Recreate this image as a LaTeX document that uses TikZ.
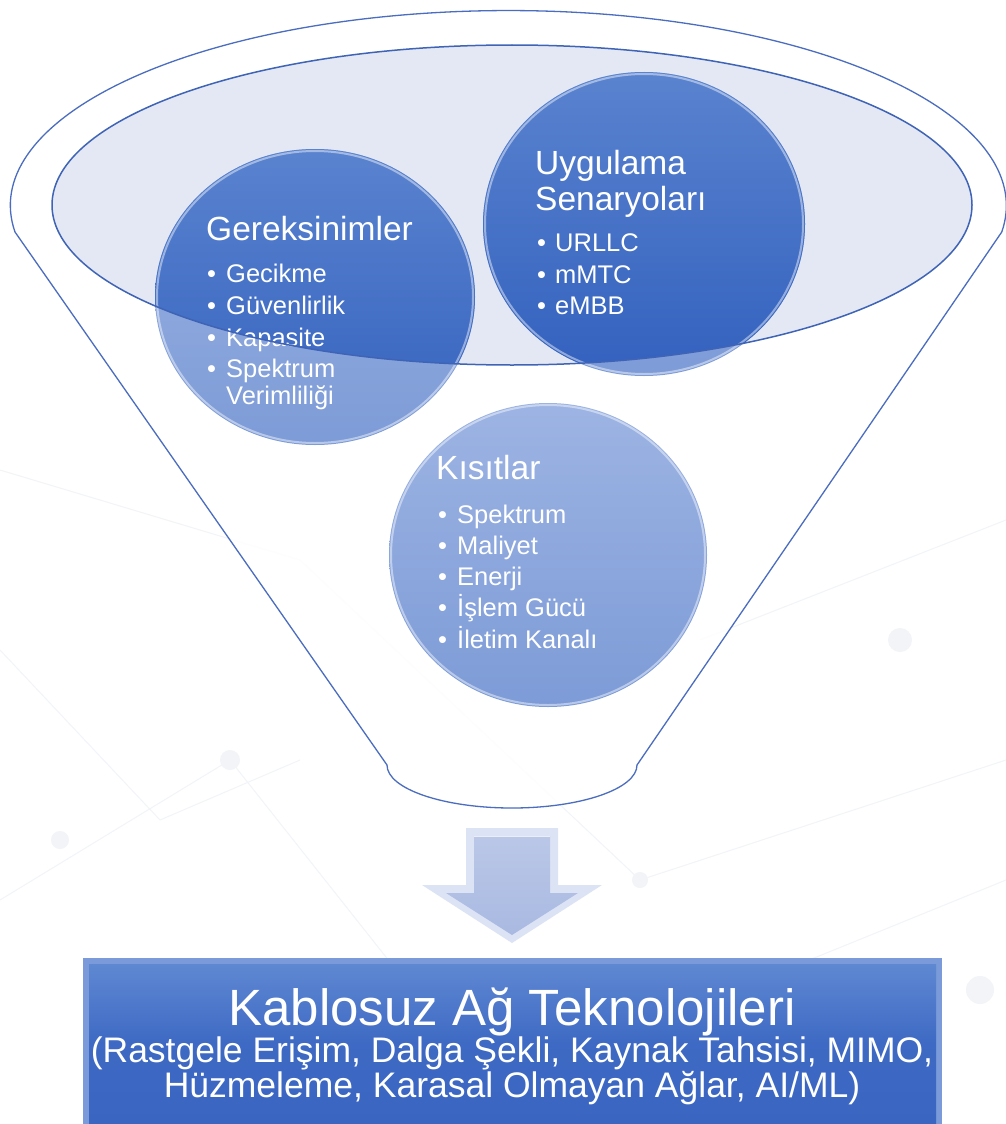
\documentclass[tikz,border=0pt]{standalone}
\usepackage{fontspec}
\setmainfont{Liberation Sans}
\usetikzlibrary{shapes.geometric}
\definecolor{funnelline}{HTML}{4A6DBF}
\definecolor{ellfill}{HTML}{E3E8F4}
\definecolor{ellline}{HTML}{3F64B6}
\definecolor{darktop}{HTML}{5A83CF}
\definecolor{darkbot}{HTML}{3361BE}
\definecolor{lighttop}{HTML}{9DB4E3}
\definecolor{lightbot}{HTML}{7D9BD7}
\definecolor{boxtop}{HTML}{5F88D2}
\definecolor{boxbot}{HTML}{3A66C2}
\definecolor{boxedge}{HTML}{7A9AD9}
\definecolor{arrowout}{HTML}{DCE3F5}
\definecolor{arrowin}{HTML}{A9B9E1}
\definecolor{bgline}{HTML}{F2F4F8}
\begin{document}
\begin{tikzpicture}[x=1pt,y=-1pt,
  circ/.style={ellipse, draw=none, inner sep=0pt, top color=lighttop, bottom color=lightbot},
  rim/.style={draw=white, draw opacity=0.45, line width=2pt},
  ttl/.style={text=white, inner sep=0pt, anchor=base west, font=\fontsize{33.5}{36}\selectfont},
  itm/.style={text=white, inner sep=0pt, anchor=base west, font=\fontsize{25.5}{27}\selectfont},
  boxtxt/.style={text=white, inner sep=0pt, anchor=base}]
\useasboundingbox (0,0) rectangle (1006,1124);
\fill[white] (0,0) rectangle (1006,1124);
% faint background network
\begin{scope}[bgline, line width=1pt]
\draw (0,470) -- (300,560) -- (640,880) -- (1006,760);
\draw (0,900) -- (230,760) -- (420,1000);
\draw (700,640) -- (1006,520);
\draw (760,980) -- (1006,880);
\draw (0,650) -- (160,820) -- (300,760);
\fill (230,760) circle[radius=10pt];
\fill (640,880) circle[radius=8pt];
\fill (900,640) circle[radius=12pt];
\fill (60,840) circle[radius=9pt];
\fill (980,990) circle[radius=14pt];
\end{scope}
% funnel body
\draw[funnelline, line width=1.3pt, fill=white, fill opacity=0.85]
  (15,232) arc[start angle=187.8, end angle=-7.8, x radius=498pt, y radius=195pt]
  -- (637,765) arc[start angle=0, end angle=-180, x radius=125pt, y radius=43pt]
  -- cycle;
% inner ellipse fill
\fill[ellfill] (512,205) ellipse[x radius=460pt, y radius=160pt];
% circles (light)
\node[circ, minimum width=320pt, minimum height=296pt] (req) at (315,297) {};
\node[circ, minimum width=322pt, minimum height=304pt] (app) at (644,224) {};
\node[circ, minimum width=318pt, minimum height=304pt] (con) at (548,555) {};
% dark parts inside ellipse
\begin{scope}
\clip (512,205) ellipse[x radius=460pt, y radius=160pt];
\shade[top color=darktop, bottom color=darkbot] (req.center) ellipse[x radius=160pt, y radius=148pt];
\shade[top color=darktop, bottom color=darkbot] (app.center) ellipse[x radius=161pt, y radius=152pt];
\end{scope}
% rims
\draw[rim] (req.center) ellipse[x radius=158pt, y radius=146pt];
\draw[rim] (app.center) ellipse[x radius=159pt, y radius=150pt];
\draw[rim] (con.center) ellipse[x radius=157pt, y radius=150pt];
% texts: Gereksinimler
\node[ttl] (reqt) at (206,240) {Gereksinimler};
\node[itm] (req1) at (207,282) {\makebox[19pt][l]{•}Gecikme};
\node[itm] (req2) at (207,314) {\makebox[19pt][l]{•}Güvenlirlik};
\node[itm] (req3) at (207,346) {\makebox[19pt][l]{•}Kapasite};
\node[itm] (req4) at (207,377) {\makebox[19pt][l]{•}Spektrum};
\node[itm] (req5) at (226,404) {Verimliliği};
% Uygulama Senaryolari
\node[ttl] (appt1) at (535,174) {Uygulama};
\node[ttl] (appt2) at (535,210) {Senaryoları};
\node[itm] (app1) at (537,251) {\makebox[18pt][l]{•}URLLC};
\node[itm] (app2) at (537,283) {\makebox[18pt][l]{•}mMTC};
\node[itm] (app3) at (537,314) {\makebox[18pt][l]{•}eMBB};
% Kisitlar
\node[ttl] (cont) at (436,479) {Kısıtlar};
\node[itm] (con1) at (438,523) {\makebox[19pt][l]{•}Spektrum};
\node[itm] (con2) at (438,554) {\makebox[19pt][l]{•}Maliyet};
\node[itm] (con3) at (438,585) {\makebox[19pt][l]{•}Enerji};
\node[itm] (con4) at (438,616) {\makebox[19pt][l]{•}İşlem Gücü};
\node[itm] (con5) at (438,648) {\makebox[19pt][l]{•}İletim Kanalı};
% inner ellipse outline on top
\draw[ellline, line width=1.5pt] (512,205) ellipse[x radius=460pt, y radius=160pt];
% block arrow
\fill[arrowout] (466,828) -- (558,828) -- (558,885) -- (602,885) -- (512,943) -- (422,885) -- (466,885) -- cycle;
\shade[top color=arrowin!80!white, bottom color=arrowin] (474,836) -- (550,836) -- (550,893) -- (578,893) -- (512,935) -- (446,893) -- (474,893) -- cycle;
\draw[white, line width=1pt, opacity=0.7] (474,836) -- (550,836);
% result box
\fill[boxedge] (83,958) rectangle (942,1124);
\shade[top color=boxtop, bottom color=boxbot, middle color=boxbot!90!boxtop] (89,964) rectangle (936,1124);
\node[inner sep=0pt, minimum width=859pt, minimum height=166pt] (tech) at (512.5,1041) {};
\node[boxtxt, font=\fontsize{51}{55}\selectfont] (techt) at (512,1025) {Kablosuz Ağ Teknolojileri};
\node[boxtxt, font=\fontsize{35.5}{37}\selectfont] (tech1) at (512,1062) {(Rastgele Erişim, Dalga Şekli, Kaynak Tahsisi, MIMO,};
\node[boxtxt, font=\fontsize{35.5}{37}\selectfont] (tech2) at (512,1097) {Hüzmeleme, Karasal Olmayan Ağlar, AI/ML)};
\end{tikzpicture}
\end{document}
